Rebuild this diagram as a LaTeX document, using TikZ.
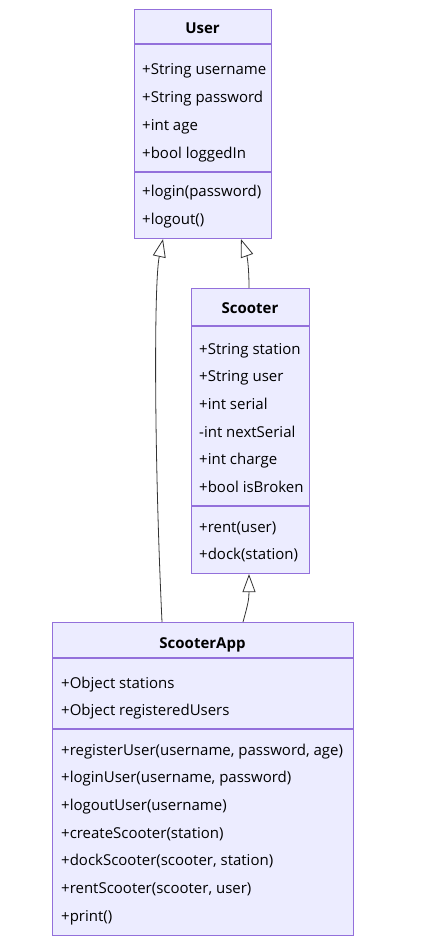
\documentclass[tikz,border=0pt]{standalone}
\usepackage{fontspec}
\setmainfont{Open Sans}
\usetikzlibrary{%
    arrows.meta,
    calc,
    positioning
}
\definecolor{classfill}{HTML}{ECECFF}
\definecolor{classline}{HTML}{9370DB}
\definecolor{edgeline}{HTML}{333333}
\tikzset{classbox/.style = {draw=classline, fill=classfill, line width=1.1pt, inner sep=0pt, anchor=north west}}
\tikzset{classname/.style = {font=\bfseries\fontsize{15}{18}\selectfont, anchor=base, inner sep=0pt}}
\tikzset{member/.style = {font=\fontsize{15}{18}\selectfont, anchor=base west, inner sep=0pt}}
\tikzset{divider/.style = {draw=classline, line width=1.1pt}}
\tikzset{inherit/.style = {draw=edgeline, line width=.8pt, -{Triangle[open,length=18pt,width=13pt]}}}

\begin{document}
\begin{tikzpicture}[x=1pt,y=-1pt]
    \useasboundingbox (0,0) rectangle (440,949);

    % User
    \node[classbox, minimum width=137pt, minimum height=229pt] (user) at (134,9) {};
    \node[classname] (user-name) at (202.5,34) {User};
    \draw[divider] (user.west |- 0,44) -- (user.east |- 0,44);
    \draw[divider] (user.west |- 0,172) -- (user.east |- 0,172);
    \foreach \Label [count=\i from 0] in {%
        +String username,
        +String password,
        +int age,
        +bool loggedIn%
        }
        \node[member] (user-a\i) at (142,{75+27.7*\i}) {\Label};
    \foreach \Label [count=\i from 0] in {+login(password), +logout()}
        \node[member] (user-m\i) at (142,{197+27.7*\i}) {\Label};

    % Scooter
    \node[classbox, minimum width=118pt, minimum height=285pt] (scooter) at (191,288) {};
    \node[classname] (scooter-name) at (250,313) {Scooter};
    \draw[divider] (scooter.west |- 0,326) -- (scooter.east |- 0,326);
    \draw[divider] (scooter.west |- 0,506) -- (scooter.east |- 0,506);
    \foreach \Label [count=\i from 0] in {%
        +String station,
        +String user,
        +int serial,
        -int nextSerial,
        +int charge,
        +bool isBroken%
        }
        \node[member] (scooter-a\i) at (199,{354+27.7*\i}) {\Label};
    \foreach \Label [count=\i from 0] in {+rent(user), +dock(station)}
        \node[member] (scooter-m\i) at (199,{532+27.7*\i}) {\Label};

    % ScooterApp
    \node[classbox, minimum width=301pt, minimum height=313pt] (app) at (52,622) {};
    \node[classname] (app-name) at (202.5,648) {ScooterApp};
    \draw[divider] (app.west |- 0,658) -- (app.east |- 0,658);
    \draw[divider] (app.west |- 0,729) -- (app.east |- 0,729);
    \foreach \Label [count=\i from 0] in {+Object stations, +Object registeredUsers}
        \node[member] (app-a\i) at (61,{688+27.7*\i}) {\Label};
    \foreach \Label [count=\i from 0] in {%
        {+registerUser(username, password, age)},
        {+loginUser(username, password)},
        +logoutUser(username),
        +createScooter(station),
        {+dockScooter(scooter, station)},
        {+rentScooter(scooter, user)},
        +print()%
        }
        \node[member] (app-m\i) at (61,{755+27.7*\i}) {\Label};

    % inheritance
    \draw[inherit] ([xshift=110pt]app.north west)
        .. controls +(-8,-170) and +(-9,42) .. ([xshift=29pt]user.south west);
    \draw[inherit] ([xshift=58pt]scooter.north west)
        .. controls +(0,-22) and +(6,17) .. ([xshift=107pt]user.south west);
    \draw[inherit] ([xshift=191pt]app.north west)
        .. controls +(5,-18) and +(0,25) .. ([xshift=58pt]scooter.south west);
\end{tikzpicture}
\end{document}
